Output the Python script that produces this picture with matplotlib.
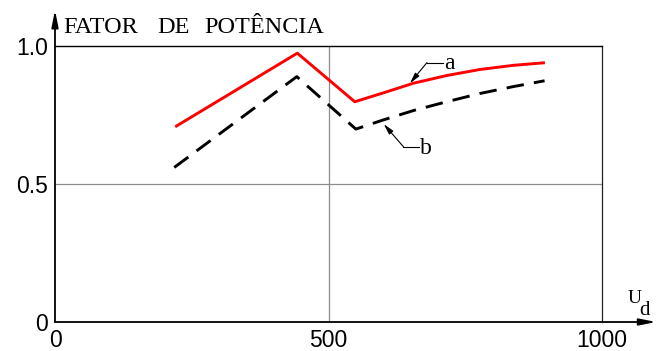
import matplotlib
matplotlib.use("Agg")
import matplotlib.pyplot as plt

# Power factor versus Ud, two cases
ud_a = [222, 443, 548, 600, 655, 716, 777, 838, 893]
pf_a = [0.710, 0.974, 0.798, 0.830, 0.865, 0.893, 0.915, 0.930, 0.939]

ud_b = [218, 442, 550, 600, 655, 716, 777, 838, 895]
pf_b = [0.560, 0.889, 0.699, 0.732, 0.766, 0.798, 0.828, 0.853, 0.874]

x_ticks = [0, 500, 1000]
x_tick_labels = ["0", "500", "1000"]
y_ticks = [0, 0.5, 1.0]
y_tick_labels = ["0", "0.5", "1.0"]

title_words = ["FATOR", "DE", "POTÊNCIA"]
title_word_x = [14.6, 186.5, 272.4]

fig = plt.figure(figsize=(6.67, 3.51), dpi=100)
ax = fig.add_axes([55 / 667, 29 / 351, (602 - 55) / 667, (322 - 46) / 351])
ax.set_xlim(0, 1000)
ax.set_ylim(0, 1.0)

# frame: left/bottom drawn as arrows, top/right as thin lines
ax.spines["left"].set_visible(False)
ax.spines["bottom"].set_visible(False)
ax.spines["top"].set_color("black")
ax.spines["top"].set_linewidth(1.0)
ax.spines["right"].set_color("#222222")
ax.spines["right"].set_linewidth(0.9)

arrow_kw = dict(arrowstyle="-|>,head_length=1.0,head_width=0.2",
                color="black", lw=1.3, shrinkA=0, shrinkB=0,
                mutation_scale=10)
ax.annotate("", xy=(1.099, 0), xytext=(0, 0), xycoords="axes fraction",
            textcoords="axes fraction", arrowprops=arrow_kw, annotation_clip=False)
ax.annotate("", xy=(0, 1.13), xytext=(0, 0), xycoords="axes fraction",
            textcoords="axes fraction", arrowprops=arrow_kw, annotation_clip=False)

# reference lines
ax.axvline(500, color="#8c8c8c", lw=0.9, zorder=1)
ax.axhline(0.5, color="#8c8c8c", lw=0.9, zorder=1)

tick_font = dict(family="Liberation Sans", size=16.5)
ax.set_xticks(x_ticks)
ax.set_xticklabels(x_tick_labels, **tick_font)
ax.set_yticks(y_ticks)
ax.set_yticklabels(y_tick_labels, **tick_font)
ax.tick_params(length=0, pad=5)

# curves
ax.plot(ud_a, pf_a, color="#ff0000", lw=2.1, zorder=3, clip_on=False)
ax.plot(ud_b, pf_b, color="black", lw=2.1, dashes=(6, 3.5), zorder=3,
        clip_on=False)

# curve labels with leaders
lead_kw = dict(arrowstyle="-|>,head_length=0.8,head_width=0.2",
               color="black", lw=0.8, shrinkA=0, shrinkB=0, mutation_scale=8)
serif = ["Liberation Serif", "DejaVu Serif"]

ax.annotate("", xy=(649, 0.865), xytext=(680, 0.940), arrowprops=lead_kw)
ax.plot([680, 709], [0.940, 0.940], color="black", lw=0.8)
ax.text(711, 0.916, "a", family=serif, size=17, va="baseline", ha="left")

ax.annotate("", xy=(601, 0.717), xytext=(637, 0.635), arrowprops=lead_kw)
ax.plot([637, 666], [0.635, 0.635], color="black", lw=0.8)
ax.text(667, 0.608, "b", family=serif, size=17, va="baseline", ha="left")

# axis titles
for word, wx in zip(title_words, title_word_x):
    ax.text(wx, 1.047, word, family=serif, size=17.5, va="baseline",
            ha="left", clip_on=False)
ax.text(1046, 0.069, "U", family=serif, size=14, va="baseline", ha="left",
        clip_on=False)
ax.text(1068, 0.025, "d", family=serif, size=15, va="baseline", ha="left",
        clip_on=False)

fig.savefig("out.png", dpi=100)
